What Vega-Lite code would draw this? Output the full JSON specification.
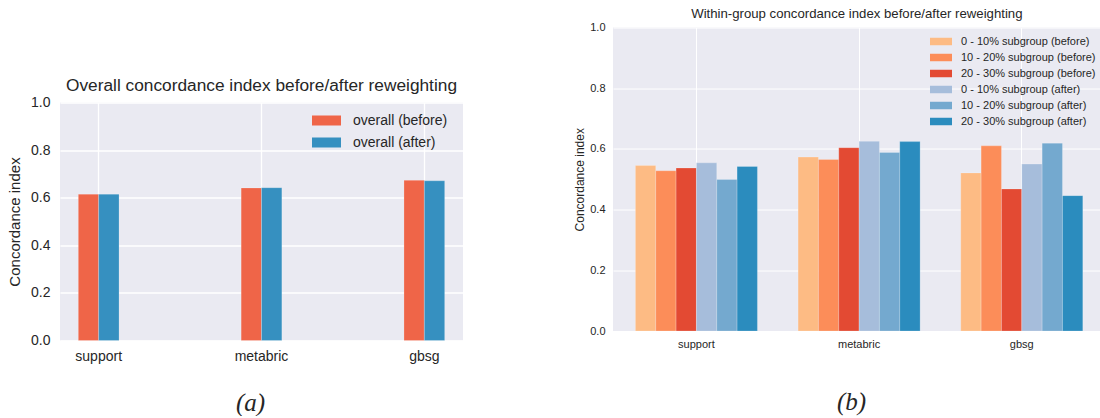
{
  "$schema": "https://vega.github.io/schema/vega-lite/v6.json",
  "background": "white",
  "padding": {"left": 7, "top": 6.5, "right": 0, "bottom": 0},
  "spacing": 110,
  "config": {
    "font": "Liberation Sans",
    "view": {"fill": "#eaeaf2", "stroke": null},
    "axis": {
      "domain": false,
      "ticks": false,
      "gridColor": "white",
      "labelColor": "#262626",
      "titleColor": "#262626",
      "titleFontWeight": "normal"
    },
    "title": {"color": "#262626", "fontWeight": "normal", "anchor": "middle"},
    "legend": {"labelColor": "#262626", "padding": 0, "title": null}
  },
  "resolve": {
    "scale": {"x": "independent", "y": "independent", "xOffset": "independent", "color": "independent"},
    "axis": {"x": "independent", "y": "independent"},
    "legend": {"color": "independent"}
  },
  "hconcat": [
    {
      "spacing": 0,
      "resolve": {
        "scale": {"x": "independent", "y": "independent", "xOffset": "independent", "color": "independent"},
        "legend": {"color": "independent"}
      },
      "vconcat": [
        {
          "width": 403,
          "height": 49,
          "view": {"fill": null, "stroke": null},
          "data": {"values": []},
          "mark": {"type": "point", "opacity": 0},
          "encoding": {}
        },
        {
          "width": 403,
          "height": 238,
          "title": {"text": "Overall concordance index before/after reweighting", "fontSize": 17.3, "offset": 1},
          "data": {
            "values": [
              {"dataset": "support", "run": "overall (before)", "cindex": 0.615},
              {"dataset": "support", "run": "overall (after)", "cindex": 0.615},
              {"dataset": "metabric", "run": "overall (before)", "cindex": 0.641},
              {"dataset": "metabric", "run": "overall (after)", "cindex": 0.642},
              {"dataset": "gbsg", "run": "overall (before)", "cindex": 0.673},
              {"dataset": "gbsg", "run": "overall (after)", "cindex": 0.671}
            ]
          },
          "mark": {"type": "bar", "stroke": "white", "strokeOpacity": 0.35, "strokeWidth": 0.6},
          "encoding": {
            "x": {
              "field": "dataset",
              "type": "nominal",
              "sort": ["support", "metabric", "gbsg"],
              "scale": {"paddingInner": 0.75, "paddingOuter": 0.1125},
              "axis": {
                "title": "(a)",
                "titleFont": "Liberation Serif",
                "titleFontStyle": "italic",
                "titleFontSize": 25,
                "titlePadding": 27,
                "titleX": 190,
                "labelAngle": 0,
                "labelFontSize": 14,
                "labelPadding": 9,
                "grid": true,
                "gridWidth": 1.3,
                "bandPosition": 0.5
              }
            },
            "xOffset": {
              "field": "run",
              "sort": ["overall (before)", "overall (after)"],
              "scale": {"paddingInner": 0, "paddingOuter": 0}
            },
            "y": {
              "field": "cindex",
              "type": "quantitative",
              "scale": {"domain": [0, 1]},
              "axis": {
                "title": "Concordance index",
                "values": [0, 0.2, 0.4, 0.6, 0.8, 1.0],
                "format": ".1f",
                "labelFontSize": 14,
                "labelPadding": 10,
                "titleFontSize": 15,
                "titlePadding": 8,
                "gridWidth": 1.3
              }
            },
            "color": {
              "field": "run",
              "type": "nominal",
              "scale": {
                "domain": ["overall (before)", "overall (after)"],
                "range": ["#ef6548", "#3690c0"]
              },
              "legend": {
                "orient": "none",
                "legendX": 252,
                "legendY": 3.5,
                "symbolType": "M-1,-0.345H1V0.345H-1Z",
                "symbolSize": 841,
                "symbolStrokeWidth": 0,
                "symbolOpacity": 1,
                "labelFontSize": 14,
                "labelOffset": 12,
                "rowPadding": -1
              }
            }
          }
        }
      ]
    },
    {
      "width": 487.7,
      "height": 303.5,
      "title": {"text": "Within-group concordance index before/after reweighting", "fontSize": 13.2, "offset": 0},
      "data": {
        "values": [
          {"dataset": "support", "subgroup": "0 - 10% subgroup (before)", "cindex": 0.545},
          {"dataset": "support", "subgroup": "10 - 20% subgroup (before)", "cindex": 0.528},
          {"dataset": "support", "subgroup": "20 - 30% subgroup (before)", "cindex": 0.537},
          {"dataset": "support", "subgroup": "0 - 10% subgroup (after)", "cindex": 0.554},
          {"dataset": "support", "subgroup": "10 - 20% subgroup (after)", "cindex": 0.499},
          {"dataset": "support", "subgroup": "20 - 30% subgroup (after)", "cindex": 0.542},
          {"dataset": "metabric", "subgroup": "0 - 10% subgroup (before)", "cindex": 0.573},
          {"dataset": "metabric", "subgroup": "10 - 20% subgroup (before)", "cindex": 0.565},
          {"dataset": "metabric", "subgroup": "20 - 30% subgroup (before)", "cindex": 0.604},
          {"dataset": "metabric", "subgroup": "0 - 10% subgroup (after)", "cindex": 0.625},
          {"dataset": "metabric", "subgroup": "10 - 20% subgroup (after)", "cindex": 0.588},
          {"dataset": "metabric", "subgroup": "20 - 30% subgroup (after)", "cindex": 0.624},
          {"dataset": "gbsg", "subgroup": "0 - 10% subgroup (before)", "cindex": 0.521},
          {"dataset": "gbsg", "subgroup": "10 - 20% subgroup (before)", "cindex": 0.610},
          {"dataset": "gbsg", "subgroup": "20 - 30% subgroup (before)", "cindex": 0.468},
          {"dataset": "gbsg", "subgroup": "0 - 10% subgroup (after)", "cindex": 0.550},
          {"dataset": "gbsg", "subgroup": "10 - 20% subgroup (after)", "cindex": 0.619},
          {"dataset": "gbsg", "subgroup": "20 - 30% subgroup (after)", "cindex": 0.446}
        ]
      },
      "mark": {"type": "bar", "stroke": "white", "strokeOpacity": 0.35, "strokeWidth": 0.6},
      "encoding": {
        "x": {
          "field": "dataset",
          "type": "nominal",
          "sort": ["support", "metabric", "gbsg"],
          "scale": {"paddingInner": 0.25, "paddingOuter": 0.1377, "range": [0, 492.2]},
          "axis": {
            "title": "(b)",
            "titleFont": "Liberation Serif",
            "titleFontStyle": "italic",
            "titleFontSize": 25,
            "titlePadding": 40,
            "titleX": 238,
            "labelAngle": 0,
            "labelFontSize": 11,
            "labelPadding": 7,
            "grid": true,
            "gridWidth": 1,
            "bandPosition": 0.5
          }
        },
        "xOffset": {
          "field": "subgroup",
          "sort": [
            "0 - 10% subgroup (before)",
            "10 - 20% subgroup (before)",
            "20 - 30% subgroup (before)",
            "0 - 10% subgroup (after)",
            "10 - 20% subgroup (after)",
            "20 - 30% subgroup (after)"
          ],
          "scale": {"paddingInner": 0, "paddingOuter": 0}
        },
        "y": {
          "field": "cindex",
          "type": "quantitative",
          "scale": {"domain": [0, 1]},
          "axis": {
            "title": "Concordance index",
            "values": [0, 0.2, 0.4, 0.6, 0.8, 1.0],
            "format": ".1f",
            "labelFontSize": 11,
            "labelPadding": 8,
            "titleFontSize": 12,
            "titlePadding": 3,
            "gridWidth": 1
          }
        },
        "color": {
          "field": "subgroup",
          "type": "nominal",
          "scale": {
            "domain": [
              "0 - 10% subgroup (before)",
              "10 - 20% subgroup (before)",
              "20 - 30% subgroup (before)",
              "0 - 10% subgroup (after)",
              "10 - 20% subgroup (after)",
              "20 - 30% subgroup (after)"
            ],
            "range": ["#fdbb84", "#fc8d59", "#e34a33", "#a6bddb", "#74a9cf", "#2b8cbe"]
          },
          "legend": {
            "orient": "none",
            "legendX": 317,
            "legendY": 3,
            "symbolType": "M-1,-0.34H1V0.34H-1Z",
            "symbolSize": 484,
            "symbolStrokeWidth": 0,
            "symbolOpacity": 1,
            "labelFontSize": 11,
            "labelOffset": 9,
            "rowPadding": -2.9
          }
        }
      }
    }
  ]
}
